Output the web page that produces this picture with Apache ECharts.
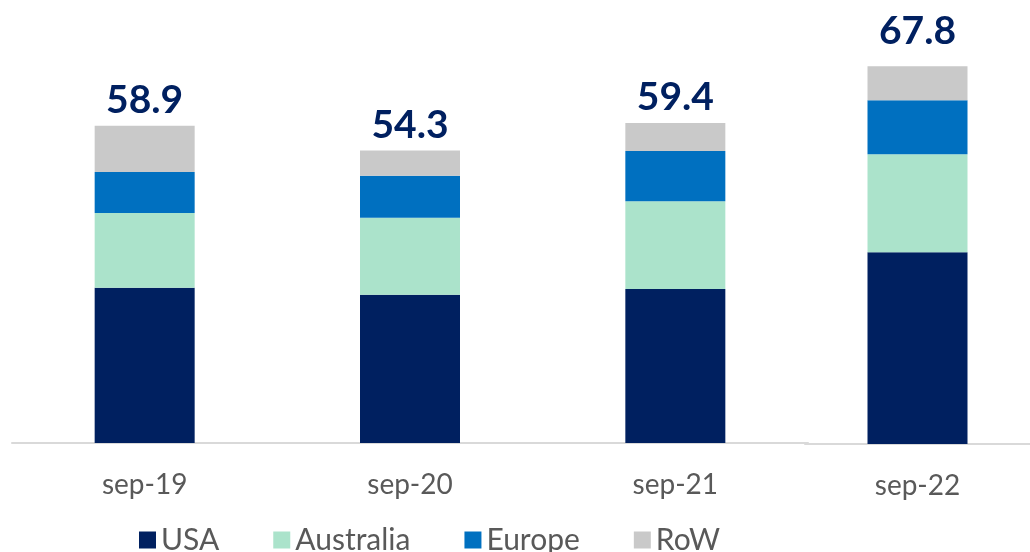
<!DOCTYPE html>
<html>
<head>
<meta charset="utf-8">
<script src="https://cdn.jsdelivr.net/npm/echarts@6/dist/echarts.min.js"></script>
<style>
html,body{margin:0;padding:0;background:#fff;}
#chart{width:1030px;height:552px;}
</style>
</head>
<body>
<div id="chart"></div>
<script>
var categories = ['sep-19', 'sep-20', 'sep-21', 'sep-22'];
var usa = [28.8, 27.5, 28.6, 34.4];
var australia = [13.9, 14.3, 16.3, 17.6];
var europe = [7.6, 7.8, 9.3, 9.7];
var row = [8.6, 4.7, 5.2, 6.1];
var totals = ['58.9', '54.3', '59.4', '67.8'];

var regions = [
	{name: 'USA', data: usa, color: '#002060'},
	{name: 'Australia', data: australia, color: '#abe3cb'},
	{name: 'Europe', data: europe, color: '#0070c0'},
	{name: 'RoW', data: row, color: '#c9c9c9'}
];

// the last bar sits on its own, slightly taller axis (as in the original slide)
var parts = [
	{from: 0, to: 3, labelGap: 6},
	{from: 3, to: 4, labelGap: 15}
];

var series = [];
for (var p = 0; p < parts.length; p++) {
	for (var r = 0; r < regions.length; r++) {
		var s = {
			name: regions[r].name,
			type: 'bar',
			stack: 'total' + p,
			xAxisIndex: p,
			yAxisIndex: p,
			barWidth: 100,
			itemStyle: {color: regions[r].color},
			data: regions[r].data.slice(parts[p].from, parts[p].to)
		};
		if (r === regions.length - 1) {
			(function (offset, gap) {
				s.label = {
					show: true,
					position: 'top',
					distance: gap,
					fontFamily: 'Lato',
					fontWeight: 'bold',
					fontSize: 39,
					color: '#002060',
					formatter: function (d) { return totals[offset + d.dataIndex]; }
				};
			})(parts[p].from, parts[p].labelGap);
		}
		series.push(s);
	}
}

var xAxisBase = {
	type: 'category',
	axisLine: {lineStyle: {color: '#d9d9d9', width: 2}},
	axisTick: {show: false},
	axisLabel: {color: '#595959', fontFamily: 'Lato', fontSize: 28, margin: 28}
};

var chart = echarts.init(document.getElementById('chart'));
var option = {
	animation: false,
	backgroundColor: '#fff',
	grid: [
		{left: 12, width: 796, top: 39, bottom: 109},
		{left: 805, width: 230, top: 26, bottom: 108}
	],
	xAxis: [
		echarts.util.merge({gridIndex: 0, data: categories.slice(0, 3)}, xAxisBase, true),
		echarts.util.merge({gridIndex: 1, data: categories.slice(3)}, xAxisBase, true)
	],
	yAxis: [
		{type: 'value', gridIndex: 0, min: 0, max: 75, show: false},
		{type: 'value', gridIndex: 1, min: 0, max: 75, show: false}
	],
	legend: {
		data: ['USA', 'Australia', 'Europe', 'RoW'],
		left: 134,
		top: 520,
		icon: 'rect',
		itemWidth: 17,
		itemHeight: 17,
		itemGap: 54,
		textStyle: {color: '#595959', fontFamily: 'Lato', fontSize: 30}
	},
	series: series
};
chart.setOption(option);
</script>
</body>
</html>
